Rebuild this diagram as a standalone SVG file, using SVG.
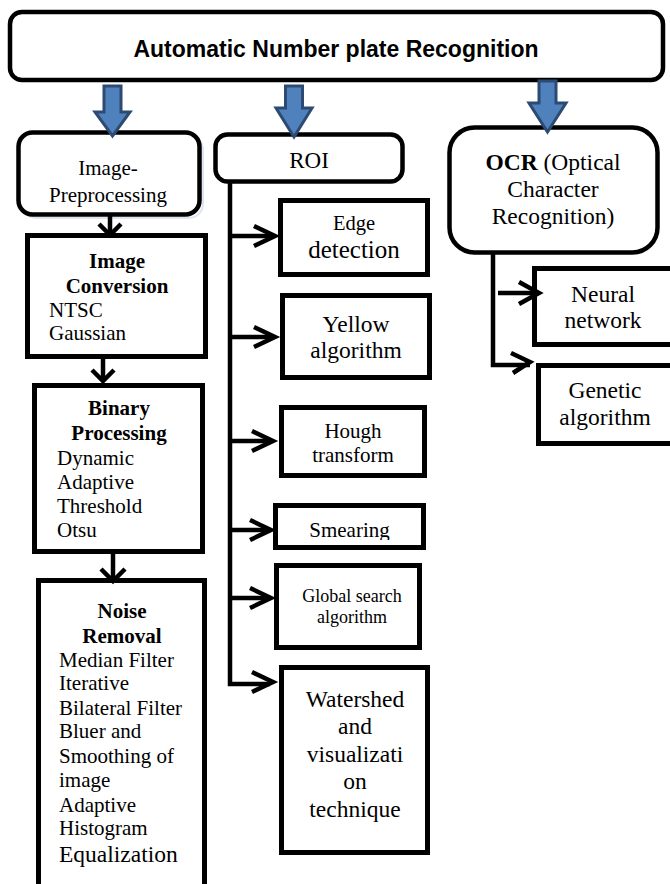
<svg xmlns="http://www.w3.org/2000/svg" width="670" height="884" viewBox="0 0 670 884">
<style>
.box{fill:#fff;stroke:#000;stroke-width:5}
.rbox{fill:#fff;stroke:#000;stroke-width:4.5}
.t{font-family:"Liberation Serif","Times New Roman",serif;fill:#000}
.c{text-anchor:middle}
.b{font-weight:bold}
.con{fill:none;stroke:#000;stroke-width:4.5}
.head{fill:none;stroke:#000;stroke-width:4.5;stroke-linejoin:miter}
.blue{fill:#4F81BD;stroke:#2C4A72;stroke-width:3}
</style>
<defs>
<clipPath id="smclip"><rect x="270" y="500" width="160" height="40"/></clipPath>
</defs>

<g id="title">
<rect class="rbox" x="10" y="12" width="653" height="68" rx="12"/>
<text x="336" y="57" font-family="Liberation Sans, Arial, sans-serif" font-weight="bold" font-size="23" text-anchor="middle">Automatic Number plate Recognition</text>
</g>

<g id="preprocessing">
<rect x="22" y="136" width="181" height="82" rx="14" fill="none" stroke="#DCE6F2" stroke-width="2"/>
<rect class="rbox" x="18.5" y="132.5" width="181" height="82" rx="14"/>
<text class="t c" x="108" y="175" font-size="21">Image-</text>
<text class="t c" x="108" y="202" font-size="21">Preprocessing</text>
</g>

<g id="roi">
<rect class="rbox" x="215.5" y="134.5" width="187" height="47" rx="12"/>
<text class="t c" x="309" y="168" font-size="23">ROI</text>
</g>

<g id="ocr">
<rect class="rbox" x="449.5" y="127.5" width="208" height="125" rx="25"/>
<text class="t c" x="553" y="170" font-size="23.5"><tspan font-weight="bold">OCR</tspan> (Optical</text>
<text class="t c" x="553" y="197" font-size="23.5">Character</text>
<text class="t c" x="553" y="224" font-size="23.5">Recognition)</text>
</g>

<g id="conversion">
<rect class="box" x="27.5" y="235.5" width="178" height="121"/>
<text class="t c b" x="117" y="268" font-size="21">Image</text>
<text class="t c b" x="117" y="293" font-size="21">Conversion</text>
<text class="t" x="49" y="317" font-size="21">NTSC</text>
<text class="t" x="49" y="340" font-size="21">Gaussian</text>
</g>

<g id="binary">
<rect class="box" x="34.5" y="385.5" width="168" height="166"/>
<text class="t c b" x="119" y="415" font-size="21">Binary</text>
<text class="t c b" x="119" y="440" font-size="21">Processing</text>
<text class="t" x="57" y="465" font-size="21">Dynamic</text>
<text class="t" x="57" y="489" font-size="21">Adaptive</text>
<text class="t" x="57" y="513" font-size="21">Threshold</text>
<text class="t" x="57" y="537" font-size="21">Otsu</text>
</g>

<g id="noise">
<path d="M38.5,890 V580.5 H204.5 V890" fill="#fff" stroke="#000" stroke-width="5"/>
<text class="t c b" x="122" y="618" font-size="21">Noise</text>
<text class="t c b" x="122" y="643" font-size="21">Removal</text>
<text class="t" x="59" y="667" font-size="21">Median Filter</text>
<text class="t" x="59" y="690" font-size="21">Iterative</text>
<text class="t" x="59" y="715" font-size="21">Bilateral Filter</text>
<text class="t" x="59" y="738" font-size="21">Bluer and</text>
<text class="t" x="59" y="763" font-size="21">Smoothing of</text>
<text class="t" x="59" y="787" font-size="21">image</text>
<text class="t" x="59" y="812" font-size="21">Adaptive</text>
<text class="t" x="59" y="835" font-size="21">Histogram</text>
<text class="t" x="59" y="862" font-size="23.5">Equalization</text>
</g>

<g id="edge">
<rect class="box" x="280.5" y="200.5" width="147" height="74"/>
<text class="t c" x="354" y="230" font-size="20.5">Edge</text>
<text class="t c" x="354" y="258" font-size="25">detection</text>
</g>

<g id="yellow">
<rect class="box" x="282.5" y="295.5" width="147" height="82"/>
<text class="t c" x="356" y="332" font-size="23.5">Yellow</text>
<text class="t c" x="356" y="358" font-size="23.5">algorithm</text>
</g>

<g id="hough">
<rect class="box" x="281.5" y="407.5" width="143" height="68"/>
<text class="t c" x="353" y="438" font-size="21">Hough</text>
<text class="t c" x="353" y="462" font-size="21">transform</text>
</g>

<g id="smearing">
<rect class="box" x="275.5" y="505.5" width="148" height="42"/>
<text class="t c" x="349.5" y="537" font-size="21" clip-path="url(#smclip)">Smearing</text>
</g>

<g id="global">
<rect class="box" x="276.5" y="565.5" width="143" height="82"/>
<text class="t c" x="352" y="602" font-size="18">Global search</text>
<text class="t c" x="352" y="623" font-size="18">algorithm</text>
</g>

<g id="watershed">
<rect class="box" x="281.5" y="667.5" width="146" height="185"/>
<text class="t c" x="355" y="707" font-size="23.5">Watershed</text>
<text class="t c" x="355" y="734" font-size="23.5">and</text>
<text class="t c" x="355" y="762" font-size="23.5">visualizati</text>
<text class="t c" x="355" y="789" font-size="23.5">on</text>
<text class="t c" x="355" y="817" font-size="23.5">technique</text>
</g>

<g id="neural">
<rect class="box" x="534.5" y="268.5" width="145" height="76"/>
<text class="t c" x="603" y="302" font-size="23.5">Neural</text>
<text class="t c" x="603" y="328" font-size="23.5">network</text>
</g>

<g id="genetic">
<rect class="box" x="538.5" y="365.5" width="145" height="78"/>
<text class="t c" x="605" y="398" font-size="23.5">Genetic</text>
<text class="t c" x="605" y="425" font-size="23.5">algorithm</text>
</g>

<g id="connectors">
<path class="con" d="M110,216 V233"/>
<path class="head" d="M99,224 L110,235 L121,224"/>
<path class="con" d="M103,358 V380"/>
<path class="head" d="M92,370 L103,381 L114,370"/>
<path class="con" d="M113,553 V580"/>
<path class="head" d="M101,569 L113,581 L125,569"/>
<path class="con" d="M230,182 V684 H270"/>
<path class="con" d="M230,236 H274"/>
<path class="head" d="M254,226 L275,236 L254,246"/>
<path class="con" d="M230,337 H274"/>
<path class="head" d="M254,327 L275,337 L254,347"/>
<path class="con" d="M230,441 H272"/>
<path class="head" d="M252,431 L273,441 L252,451"/>
<path class="con" d="M230,530 H270"/>
<path class="head" d="M250,520 L271,530 L250,540"/>
<path class="con" d="M230,598 H270"/>
<path class="head" d="M250,588 L271,598 L250,608"/>
<path class="head" d="M252,672 L273,682 L252,692"/>
<path class="con" d="M493,252 V365 H530"/>
<path class="head" d="M511,353 L530,362 L513,373"/>
<path class="con" d="M498,293 H538"/>
<path class="head" d="M519,282 L539,293 L519,304"/>
<path class="blue" d="M104,86 H121 V112 H130 L112.5,136 L95,112 H104 Z"/>
<path class="blue" d="M285.5,86 H302.5 V108 H312 L294,137 L276,108 H285.5 Z"/>
<path class="blue" d="M539,81 H556 V103 H566 L547.5,132 L529,103 H539 Z"/>
</g>
</svg>
